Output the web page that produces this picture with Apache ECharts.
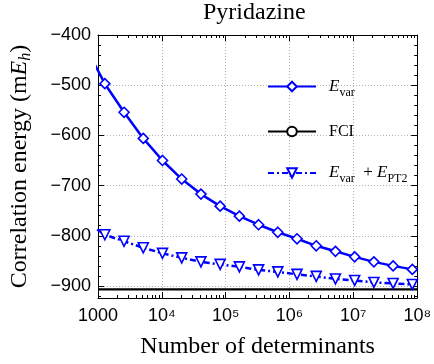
<!DOCTYPE html>
<html>
<head>
<meta charset="utf-8">
<script src="https://cdn.jsdelivr.net/npm/echarts@6/dist/echarts.min.js"></script>
<style>
  html, body { margin: 0; padding: 0; background: #fff; }
  #main { width: 434px; height: 364px; }
</style>
</head>
<body>
<div id="main"></div>
<script>
// number of determinants (first point lies left of the axis and is clipped)
const determinants = [640, 1280, 2560, 5120, 10240, 20480, 40960, 81920, 163840, 327680,
  655360, 1310720, 2621440, 5242880, 10485760, 20971520, 41943040, 83886080];
const eVar = [-424, -497, -554, -606, -650, -687, -717, -741, -761, -778,
  -793, -806, -820, -831, -842, -852, -860, -867];
const eVarPt2 = [-772, -798, -811, -824, -835, -844, -852, -857, -862, -868,
  -872, -877, -881, -886, -889, -893, -895, -897];
const fciX = [1000, 100000000];
const fciEnergy = -907;

const xTickLabels = { 1000: '1000', 10000: '10\u2074', 100000: '10\u2075', 1000000: '10\u2076',
  10000000: '10\u2077', 100000000: '10\u2078' };
const yMajorTicks = [-900, -800, -700, -600, -500, -400];
const yMinorTicks = [-920, -880, -860, -840, -820, -780, -760, -740, -720, -680, -660, -640, -620,
  -580, -560, -540, -520, -480, -460, -440, -420];
const xMinorTicks = [2e3, 3e3, 4e3, 5e3, 6e3, 7e3, 8e3, 9e3, 2e4, 3e4, 4e4, 5e4, 6e4, 7e4, 8e4, 9e4,
  2e5, 3e5, 4e5, 5e5, 6e5, 7e5, 8e5, 9e5, 2e6, 3e6, 4e6, 5e6, 6e6, 7e6, 8e6, 9e6,
  2e7, 3e7, 4e7, 5e7, 6e7, 7e7, 8e7, 9e7];

const BLUE = '#0000ff';
const SERIF = '"Liberation Serif", "DejaVu Serif", serif';
const SANS = '"Liberation Sans", Arial, sans-serif';
const Y_MIN = -924, Y_MAX = -400;

const chart = echarts.init(document.getElementById('main'));

const frameLine = { show: true, lineStyle: { color: '#000', width: 1 } };
const noLabel = { show: false };

function xAxisMain(pos) {
  return {
    type: 'log', logBase: 10, min: 1000, max: 1e8, position: pos,
    axisLine: frameLine,
    axisTick: { show: true, inside: true, length: 6, lineStyle: { color: '#000' } },
    axisLabel: pos === 'bottom' ? {
      margin: 9, fontFamily: SANS, fontSize: 18, color: '#000',
      formatter: v => xTickLabels[Math.round(v)] || ''
    } : noLabel,
    splitLine: { show: pos === 'bottom', lineStyle: { color: '#b0b0b0', type: [1, 2], width: 1 } }
  };
}
function xAxisMinor(pos) {
  return {
    type: 'value', min: 3, max: 8, position: pos,
    axisLine: { show: false },
    axisTick: { show: true, inside: true, length: 3, customValues: xMinorTicks.map(Math.log10), lineStyle: { color: '#000' } },
    axisLabel: noLabel,
    splitLine: { show: false }
  };
}
function yAxisMain(pos) {
  return {
    type: 'value', min: Y_MIN, max: Y_MAX, position: pos,
    axisLine: frameLine,
    axisTick: { show: true, inside: true, length: 6, customValues: yMajorTicks, lineStyle: { color: '#000' } },
    axisLabel: pos === 'left' ? {
      customValues: yMajorTicks, margin: 7,
      fontFamily: SANS, fontSize: 18, color: '#000',
      formatter: v => '\u2212' + Math.abs(v)
    } : noLabel,
    splitLine: { show: pos === 'left', lineStyle: { color: '#b0b0b0', type: [1, 2], width: 1 } }
  };
}
function yAxisMinor(pos) {
  return {
    type: 'value', min: Y_MIN, max: Y_MAX, position: pos,
    axisLine: { show: false },
    axisTick: { show: true, inside: true, length: 3, customValues: yMinorTicks, lineStyle: { color: '#000' } },
    axisLabel: noLabel,
    splitLine: { show: false }
  };
}

const option = {
  animation: false,
  backgroundColor: '#fff',
  title: {
    text: 'Pyridazine', left: 203, top: 1, padding: 0,
    textStyle: { fontFamily: SERIF, fontSize: 24, fontWeight: 'normal', color: '#000' }
  },
  grid: { left: 98, right: 16, top: 35, bottom: 61 },
  legend: {
    orient: 'vertical', left: 267, top: 78, padding: 0,
    itemWidth: 48, itemHeight: 12, itemGap: 25,
    data: ['Evar', 'FCI', 'EvarPT2'],
    formatter: name => ({
      Evar: '{i0|E}{s|var}',
      FCI: '{r0|FCI}',
      EvarPT2: '{i0|E}{s|var}{r|  + }{i|E}{s|PT2}'
    })[name],
    textStyle: {
      rich: {
        i0: { fontFamily: SERIF, fontStyle: 'italic', fontSize: 17, color: '#000', padding: [0, 0, 0, 8] },
        i: { fontFamily: SERIF, fontStyle: 'italic', fontSize: 17, color: '#000' },
        r0: { fontFamily: SERIF, fontSize: 16, color: '#000', padding: [0, 0, 0, 8] },
        r: { fontFamily: SERIF, fontSize: 17, color: '#000' },
        s: { fontFamily: SERIF, fontSize: 12, color: '#000', padding: [12, 0, 0, 0] }
      }
    }
  },
  xAxis: [
    Object.assign(xAxisMain('bottom'), {
      name: 'Number of determinants', nameLocation: 'middle', nameGap: 37,
      nameTextStyle: { fontFamily: SERIF, fontSize: 24, color: '#000' }
    }),
    xAxisMinor('bottom'),
    xAxisMain('top'),
    xAxisMinor('top')
  ],
  yAxis: [
    Object.assign(yAxisMain('left'), {
      name: '{t|Correlation energy (m}{e|E}{h|h}{t|)}', nameLocation: 'middle', nameGap: 64,
      nameTextStyle: {
        rich: {
          t: { fontFamily: SERIF, fontSize: 24, color: '#000' },
          e: { fontFamily: SERIF, fontStyle: 'italic', fontSize: 24, color: '#000' },
          h: { fontFamily: SERIF, fontStyle: 'italic', fontSize: 16, color: '#000', padding: [12, 0, 0, 0] }
        }
      }
    }),
    yAxisMinor('left'),
    yAxisMain('right'),
    yAxisMinor('right')
  ],
  series: [
    {
      name: 'Evar', type: 'line', xAxisIndex: 0, yAxisIndex: 0, z: 3,
      data: determinants.map((d, i) => [d, eVar[i]]),
      symbol: 'diamond', symbolSize: 10,
      itemStyle: { color: '#fff', borderColor: BLUE, borderWidth: 1.6 },
      lineStyle: { color: BLUE, width: 2.5 }
    },
    {
      name: 'FCI', type: 'line', xAxisIndex: 0, yAxisIndex: 0, z: 2,
      data: fciX.map(x => [x, fciEnergy]),
      symbol: 'circle', symbolSize: 7, showSymbol: false,
      itemStyle: { color: '#fff', borderColor: '#000', borderWidth: 1.5 },
      lineStyle: { color: '#000', width: 2.2 }
    },
    {
      name: 'EvarPT2', type: 'line', xAxisIndex: 0, yAxisIndex: 0, z: 3,
      data: determinants.map((d, i) => [d, eVarPt2[i]]),
      symbol: 'triangle', symbolRotate: 180, symbolSize: 10,
      itemStyle: { color: '#fff', borderColor: BLUE, borderWidth: 1.6 },
      lineStyle: { color: BLUE, width: 2.5, type: [6, 3, 2, 3] }
    }
  ]
};

chart.setOption(option);
</script>
</body>
</html>
